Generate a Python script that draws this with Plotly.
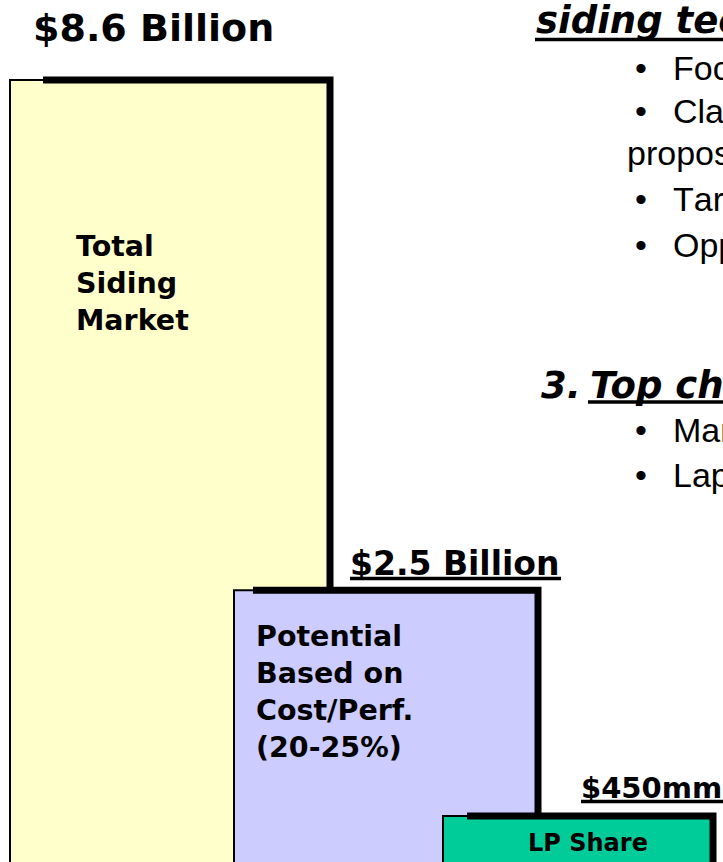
import plotly.graph_objects as go

# ---------------- data ----------------
segments = ["Total Siding Market", "Potential Based on Cost/Perf. (20-25%)", "LP Share"]
segment_text = ["Total<br>Siding<br>Market", "Potential<br>Based on<br>Cost/Perf.<br>(20-25%)", "LP Share"]
values_bn = [8.6, 2.5, 0.45]          # $ billion
value_labels = ["$8.6 Billion", "$2.5 Billion", "$450mm"]
bar_colors = ["#FFFFCC", "#CCCCFF", "#00CC99"]

heading_1 = "siding technology"
bullets_1 = ["Focus", "Clarify value", "proposition", "Target", "Opportunity"]
heading_3_num = "3."
heading_3 = "Top challenges"
bullets_3 = ["Market", "Lap siding"]

# ---------------- layout constants ----------------
W, H = 723, 862
SCALE_POWER = 0.8                       # schematic (compressed) display scale
disp = [v ** SCALE_POWER for v in values_bn]
Y_RANGE = [0.2114, 6.142]

bar_left = [10, 234, 443]
bar_width = [320, 304, 270]
shadow_start = [43, 253, 467]
bar_center = [l + w / 2 for l, w in zip(bar_left, bar_width)]
bar_right = [l + w for l, w in zip(bar_left, bar_width)]

BOLD = "DejaVu Sans"
REG = "Liberation Sans, Arial, sans-serif"

fig = go.Figure()

fig.add_trace(go.Bar(
    x=bar_center, y=disp, width=bar_width, base=0,
    marker=dict(color=bar_colors, line=dict(color="black", width=2)),
    hoverinfo="skip", showlegend=False,
))

# thick black top/right edge of every block
for i in range(len(values_bn)):
    bottom = disp[i + 1] if i + 1 < len(disp) else Y_RANGE[0] - 0.5
    fig.add_trace(go.Scatter(
        x=[shadow_start[i], bar_right[i], bar_right[i]],
        y=[disp[i], disp[i], bottom],
        mode="lines", line=dict(color="black", width=7),
        hoverinfo="skip", showlegend=False, cliponaxis=True,
    ))


def py(p):
    return 1 - p / H


annotations = []


def txt(x, ypix, text, size, family=BOLD, anchor="left", color="black"):
    annotations.append(dict(
        x=x, y=py(ypix), xref="x", yref="paper", text=text, showarrow=False,
        xanchor=anchor, yanchor="middle", align="left",
        font=dict(family=family, size=size, color=color),
    ))


def nokern(t):
    return '<span style="font-kerning:none">' + t + "</span>"


shapes = []


def underline(x0, x1, ypix, w=3.5):
    shapes.append(dict(type="line", xref="x", yref="paper", x0=x0, x1=x1,
                       y0=py(ypix), y1=py(ypix), line=dict(color="black", width=w)))


# value labels
txt(31, 28, "<b>" + value_labels[0] + "</b>", 38)
txt(348, 563, "<b>" + value_labels[1] + "</b>", 33)
underline(350, 561, 578.5)
txt(579, 788, "<b>" + value_labels[2] + "</b>", 29)
underline(581, 723, 801.5)

# block texts
txt(74, 283, "<b>" + segment_text[0] + "</b>", 28.5)
txt(254, 692, "<b>" + segment_text[1] + "</b>", 28.5)
txt(bar_center[2] + 10, 843, "<b>" + segment_text[2] + "</b>", 24, anchor="center")

# right-hand slide text
txt(534, 20, "<b><i>" + heading_1 + "</i></b>", 37)
underline(535, 723, 39.5)
bullet_y = [68, 111, 153, 199, 245]
for t, y in zip(bullets_1, bullet_y):
    if t == "proposition":
        txt(625, y, nokern(t), 34, REG)
    else:
        txt(633, y, "•", 34, REG)
        txt(671, y, nokern(t), 34, REG)

txt(539, 385, "<b><i>" + heading_3_num + "</i></b>", 37)
txt(588, 385, "<b><i>" + heading_3 + "</i></b>", 37)
underline(588, 723, 402)
for t, y in zip(bullets_3, [430, 475]):
    txt(633, y, "•", 34, REG)
    txt(671, y, nokern(t), 34, REG)

fig.update_layout(
    width=W, height=H, margin=dict(l=0, r=0, t=0, b=0),
    paper_bgcolor="white", plot_bgcolor="white",
    xaxis=dict(range=[0, W], visible=False, fixedrange=True),
    yaxis=dict(range=Y_RANGE, visible=False, fixedrange=True),
    annotations=annotations, shapes=shapes, barmode="overlay",
    showlegend=False,
)

fig.write_html(
    "out.html",
    config={"displayModeBar": False},
    post_script="document.body.style.margin='0';document.body.style.overflow='hidden';",
)
